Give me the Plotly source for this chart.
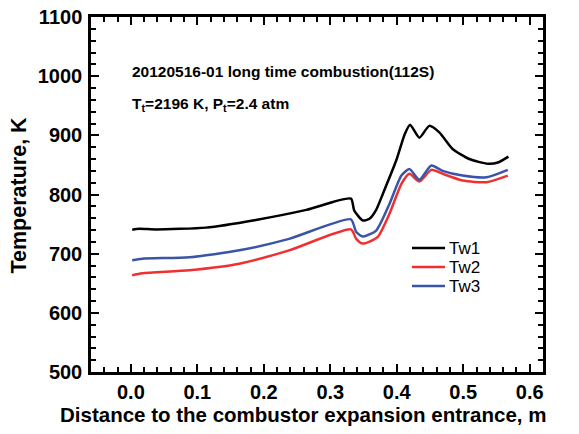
import plotly.graph_objects as go

# Data
x_tw1 = [0.002, 0.0125, 0.038, 0.113, 0.188, 0.264, 0.331, 0.336, 0.349, 0.359, 0.369, 0.379, 0.399, 0.412, 0.420, 0.434, 0.449, 0.464, 0.484, 0.509, 0.537, 0.552, 0.568]
y_tw1 = [740.5, 742, 741, 744, 757, 774, 793, 773, 756, 759, 774, 801, 857, 902, 918, 896, 916, 905, 877, 860, 852, 854, 864]

x_tw2 = [0.002, 0.017, 0.088, 0.163, 0.238, 0.331, 0.339, 0.349, 0.371, 0.389, 0.407, 0.419, 0.434, 0.452, 0.469, 0.499, 0.535, 0.567]
y_tw2 = [663.5, 667, 672, 683, 705.6, 741, 725, 717, 728, 767.5, 818, 835, 822, 841.6, 835, 823.6, 820.8, 832]

x_tw3 = [0.002, 0.017, 0.088, 0.163, 0.238, 0.331, 0.339, 0.349, 0.369, 0.389, 0.407, 0.419, 0.434, 0.452, 0.469, 0.499, 0.535, 0.567]
y_tw3 = [688.8, 691.6, 694, 705.6, 725, 758, 736.5, 729, 739, 784, 832, 843, 825, 849, 840, 832, 829, 841.6]

series_names = ["Tw1", "Tw2", "Tw3"]
colors = ["#000000", "#f03030", "#3a55a8"]

FONT = "Arial, Liberation Sans, sans-serif"

# plot-area geometry in pixels (used only to place decorations)
L, R, T, B = 91, 543, 17, 372
W, H = 579, 434


def px_x(p):
    return (p - L) / (R - L)


def px_y(p):
    return (B - p) / (B - T)


fig = go.Figure()
for name, xs, ys, c in zip(series_names, [x_tw1, x_tw2, x_tw3], [y_tw1, y_tw2, y_tw3], colors):
    fig.add_trace(go.Scatter(x=xs, y=ys, mode="lines", name=name, showlegend=False,
                             line=dict(color=c, width=2.5, shape="spline", smoothing=0.6)))

axis_common = dict(
    showline=True, linecolor="black", linewidth=2.5, mirror="ticks",
    ticks="inside", ticklen=8, tickwidth=2, tickcolor="black",
    showgrid=False, zeroline=False, automargin=False,
    tickfont=dict(family=FONT, size=20, color="black", weight="bold"),
)

fig.update_xaxes(
    range=[-0.06, 0.62], tick0=0, dtick=0.1, tickformat=".1f", ticklabelstandoff=0,
    minor=dict(dtick=0.02, ticks="inside", ticklen=5, tickwidth=1.5, tickcolor="black"),
    **axis_common,
)
fig.update_yaxes(
    range=[500, 1100], tick0=500, dtick=100, ticklabelstandoff=2,
    minor=dict(dtick=20, ticks="inside", ticklen=5, tickwidth=1.5, tickcolor="black"),
    **axis_common,
)

# axis titles
fig.add_annotation(x=px_x(303), y=px_y(414), xref="paper", yref="paper",
                   xanchor="center", yanchor="middle", showarrow=False,
                   text="Distance to the combustor expansion entrance, m",
                   font=dict(family=FONT, size=20.5, color="black", weight="bold"))
fig.add_annotation(x=px_x(18), y=px_y(195.5), xref="paper", yref="paper",
                   xanchor="center", yanchor="middle", showarrow=False, textangle=-90,
                   text="Temperature, K",
                   font=dict(family=FONT, size=21.5, color="black", weight="bold"))

# text labels inside the plot
fig.add_annotation(x=px_x(130), y=px_y(71), xref="paper", yref="paper", xanchor="left", yanchor="middle",
                   text="20120516-01 long time combustion(112S)", showarrow=False,
                   font=dict(family=FONT, size=15.5, color="black", weight="bold"))
fig.add_annotation(x=px_x(130), y=px_y(104), xref="paper", yref="paper", xanchor="left", yanchor="middle",
                   text="T<sub>t</sub>=2196 K, P<sub>t</sub>=2.4 atm", showarrow=False,
                   font=dict(family=FONT, size=15.5, color="black", weight="bold"))

# legend (drawn manually for exact spacing)
leg_rows = [248, 267, 286]
for name, c, ry in zip(series_names, colors, leg_rows):
    fig.add_shape(type="line", xref="paper", yref="paper",
                  x0=px_x(412), x1=px_x(445), y0=px_y(ry), y1=px_y(ry),
                  line=dict(color=c, width=2.5))
    fig.add_annotation(x=px_x(447), y=px_y(ry), xref="paper", yref="paper",
                       xanchor="left", yanchor="middle", showarrow=False, text=name,
                       font=dict(family=FONT, size=17, color="black"))

fig.update_layout(
    width=W, height=H,
    margin=dict(l=L, r=W - R, t=T, b=H - B),
    paper_bgcolor="white", plot_bgcolor="white",
    font=dict(family=FONT, color="black"),
    showlegend=False,
)

fig.write_html("out.html", config={"displayModeBar": False},
               post_script="document.body.style.margin='0px';")
